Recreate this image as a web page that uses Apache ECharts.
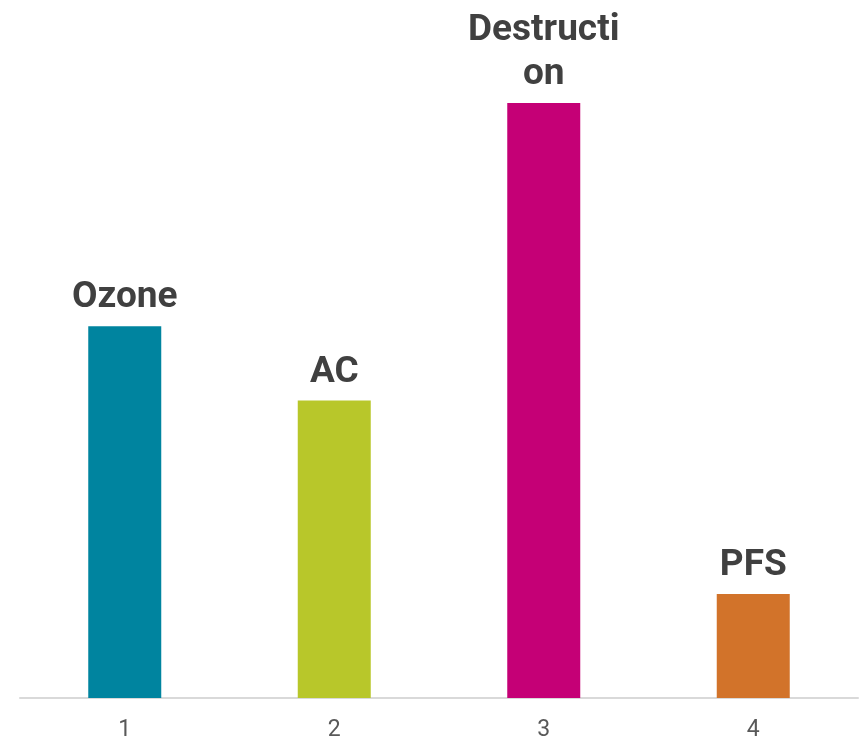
<!DOCTYPE html>
<html>
<head>
<meta charset="utf-8">
<script src="https://cdn.jsdelivr.net/npm/echarts@6/dist/echarts.min.js"></script>
<style>html,body{margin:0;padding:0;background:#fff}#c{width:866px;height:742px}</style>
</head>
<body>
<div id="c"></div>
<script>
const categories = ['1', '2', '3', '4'];
const barNames = ['Ozone', 'AC', 'Destruction', 'PFS'];
const values = [62.5, 50, 100, 17.5];
const colors = ['#00849F', '#B8C72A', '#C50076', '#D2732A'];

const chart = echarts.init(document.getElementById('c'));
chart.setOption({
  animation: false,
  grid: { left: 20, right: 8, top: 103, bottom: 39 },
  xAxis: {
    type: 'category',
    data: categories,
    axisLine: { lineStyle: { color: '#d9d9d9', width: 2 } },
    axisTick: { show: false },
    axisLabel: { color: '#595959', fontSize: 23, fontFamily: 'Roboto', margin: 21 }
  },
  yAxis: { type: 'value', min: 0, max: 100, show: false, splitLine: { show: false } },
  series: [{
    type: 'bar',
    barWidth: 73,
    data: values.map((v, i) => ({ value: v, name: barNames[i], itemStyle: { color: colors[i] } })),
    label: {
      show: true,
      position: 'top',
      distance: 6,
      formatter: p => barNames[p.dataIndex],
      color: '#404040',
      fontSize: 37,
      fontWeight: 'bold',
      fontFamily: 'Roboto',
      lineHeight: 44,
      width: 162,
      overflow: 'breakAll',
      align: 'center'
    }
  }]
});
</script>
</body>
</html>
